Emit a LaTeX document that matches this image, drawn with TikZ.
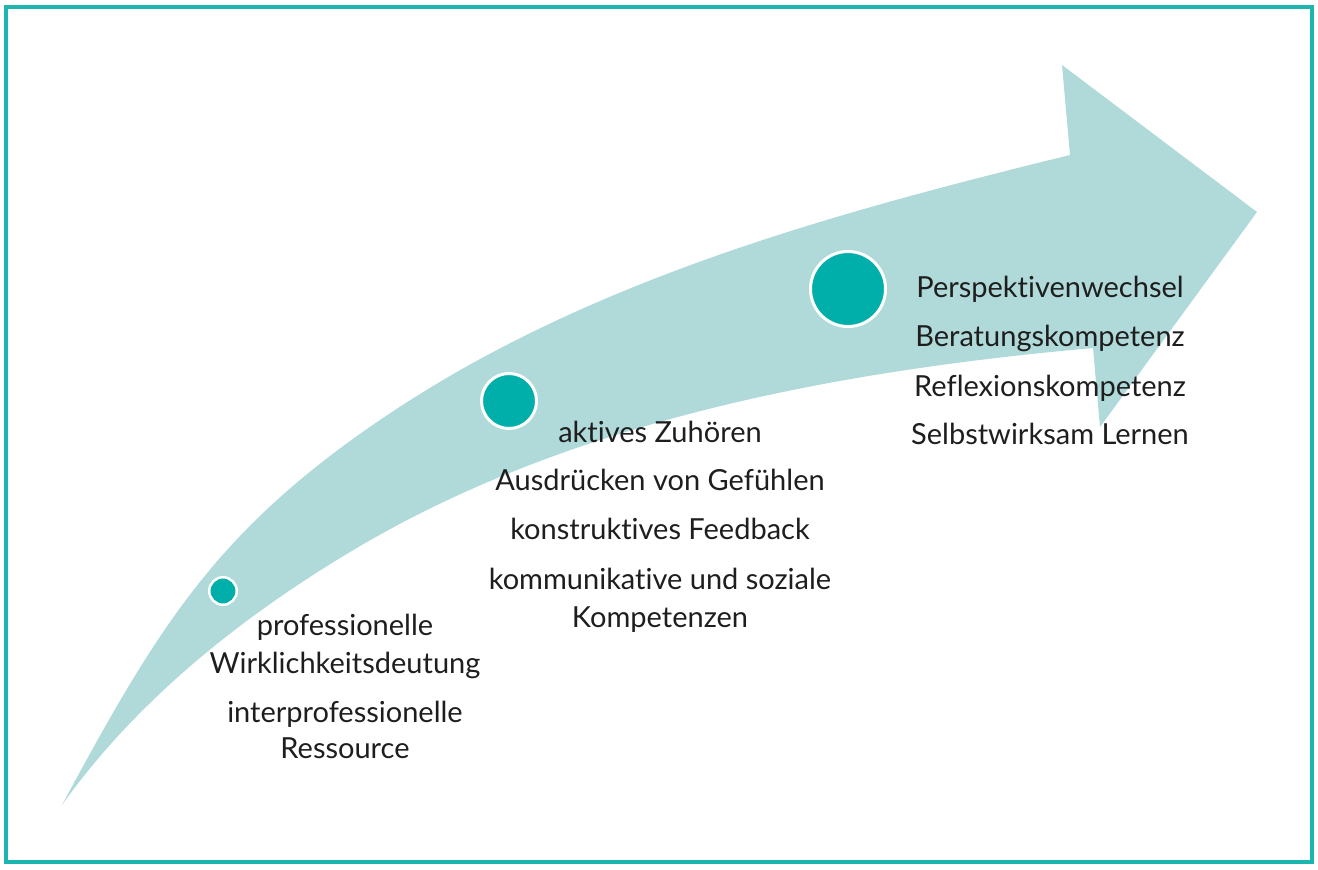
\documentclass[tikz,border=0pt]{standalone}
\usepackage{fontspec}
\setmainfont{Lato}[Ligatures={NoCommon,NoRequired,NoContextual}]
\definecolor{arrowfill}{HTML}{B0DAD9}
\definecolor{dotteal}{HTML}{00AFA9}
\definecolor{frameteal}{HTML}{1DB5B0}
\definecolor{txt}{HTML}{1E1E1E}
\begin{document}
\begin{tikzpicture}[x=1pt,y=-1pt,
  lbl/.style={anchor=base, inner sep=0pt, text=txt, font=\fontsize{29}{33}\selectfont},
  dot/.style={circle, fill=dotteal, draw=white, inner sep=0pt}]
\useasboundingbox (0,0) rectangle (1318,870);
\draw[frameteal, line width=4pt] (6,7) rectangle (1312,862);
% arrow
\fill[arrowfill] (62,805)
  .. controls (157,629) and (215,532) .. (380,420)
  .. controls (584,281) and (830,214) .. (1070,155)
  -- (1062,65) -- (1257,212) -- (1100,427) -- (1093,348)
  .. controls (837,371) and (570,420) .. (350,552)
  .. controls (240,618) and (136,701) .. (62,805) -- cycle;
% dots
\node[dot, line width=2.5pt, minimum size=27.5pt] (c1) at (223,591) {};
\node[dot, line width=3pt, minimum size=55pt] (c2) at (509,401) {};
\node[dot, line width=3pt, minimum size=75pt] (c3) at (848,289) {};
% left texts
\node[lbl] (l1) at (345,635) {professionelle};
\node[lbl] (l2) at (345,673) {Wirklichkeitsdeutung};
\node[lbl] (l3) at (345,722) {interprofessionelle};
\node[lbl] (l4) at (345,758) {Ressource};
% middle texts
\node[lbl] (m1) at (660,442) {aktives Zuhören};
\node[lbl] (m2) at (660,490) {Ausdrücken von Gefühlen};
\node[lbl] (m3) at (660,539) {konstruktives Feedback};
\node[lbl] (m4) at (660,589) {kommunikative und soziale};
\node[lbl] (m5) at (660,627) {Kompetenzen};
% right texts
\node[lbl] (r1) at (1050,297) {Perspektivenwechsel};
\node[lbl] (r2) at (1050,346) {Beratungskompetenz};
\node[lbl] (r3) at (1050,396) {Reflexionskompetenz};
\node[lbl] (r4) at (1050,444) {Selbstwirksam Lernen};
\end{tikzpicture}
\end{document}
